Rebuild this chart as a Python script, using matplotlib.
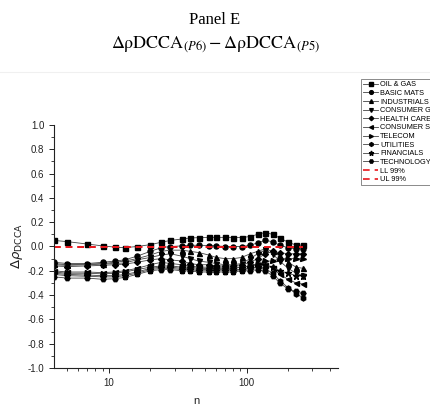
import matplotlib
matplotlib.use("Agg")
import matplotlib.pyplot as plt
from matplotlib.ticker import MultipleLocator, FixedLocator, NullFormatter
from matplotlib.lines import Line2D

plt.rcParams['axes.unicode_minus'] = False
plt.rcParams['font.family'] = ['Liberation Sans', 'DejaVu Sans']

n = [4, 5, 7, 9, 11, 13, 16, 20, 24, 28, 34, 39, 45, 53, 60, 70, 80, 92, 106, 120, 136, 154, 174, 200, 228, 257]

labels = ["OIL & GAS", "BASIC MATS", "INDUSTRIALS", "CONSUMER GOODS", "HEALTH CARE",
          "CONSUMER SVS", "TELECOM", "UTILITIES", "FINANCIALS", "TECHNOLOGY"]

oil_gas = [0.05, 0.04, 0.02, 0.005, -0.005, -0.01, 0.0, 0.015, 0.035, 0.05, 0.062, 0.07, 0.073, 0.075, 0.075, 0.075, 0.074, 0.074, 0.082, 0.1, 0.115, 0.1, 0.07, 0.035, 0.012, 0.01]
basic_mats = [-0.13, -0.14, -0.14, -0.13, -0.12, -0.11, -0.08, -0.04, -0.01, 0.0, 0.005, 0.01, 0.01, 0.008, 0.005, 0.0, 0.0, 0.0, 0.01, 0.03, 0.05, 0.04, 0.01, -0.01, -0.02, -0.02]
industrials = [-0.14, -0.15, -0.145, -0.14, -0.13, -0.12, -0.10, -0.07, -0.04, -0.03, -0.03, -0.04, -0.05, -0.07, -0.09, -0.1, -0.1, -0.09, -0.06, -0.04, -0.02, -0.04, -0.08, -0.13, -0.17, -0.18]
consumer_goods = [-0.15, -0.155, -0.15, -0.145, -0.14, -0.135, -0.11, -0.09, -0.07, -0.06, -0.08, -0.10, -0.12, -0.13, -0.14, -0.15, -0.15, -0.14, -0.10, -0.06, -0.03, -0.06, -0.12, -0.18, -0.22, -0.24]
health_care = [-0.16, -0.165, -0.16, -0.155, -0.15, -0.145, -0.13, -0.11, -0.1, -0.11, -0.12, -0.14, -0.15, -0.15, -0.16, -0.16, -0.16, -0.15, -0.13, -0.1, -0.06, -0.04, -0.05, -0.06, -0.06, -0.06]
consumer_svs = [-0.2, -0.21, -0.21, -0.215, -0.21, -0.2, -0.18, -0.15, -0.13, -0.14, -0.15, -0.16, -0.17, -0.17, -0.17, -0.17, -0.17, -0.17, -0.16, -0.15, -0.15, -0.18, -0.23, -0.27, -0.3, -0.31]
telecom = [-0.21, -0.22, -0.22, -0.225, -0.22, -0.21, -0.19, -0.17, -0.16, -0.16, -0.17, -0.17, -0.18, -0.18, -0.18, -0.18, -0.18, -0.17, -0.16, -0.14, -0.12, -0.12, -0.1, -0.1, -0.1, -0.1]
utilities = [-0.22, -0.23, -0.235, -0.24, -0.24, -0.23, -0.21, -0.18, -0.17, -0.17, -0.18, -0.18, -0.19, -0.19, -0.19, -0.19, -0.19, -0.19, -0.18, -0.17, -0.18, -0.22, -0.28, -0.34, -0.39, -0.42]
financials = [-0.23, -0.24, -0.245, -0.25, -0.25, -0.24, -0.22, -0.19, -0.18, -0.18, -0.19, -0.19, -0.2, -0.2, -0.2, -0.2, -0.2, -0.19, -0.18, -0.17, -0.15, -0.17, -0.2, -0.22, -0.24, -0.24]
technology = [-0.25, -0.26, -0.26, -0.27, -0.265, -0.255, -0.23, -0.2, -0.19, -0.19, -0.2, -0.2, -0.21, -0.21, -0.21, -0.21, -0.21, -0.2, -0.2, -0.19, -0.2, -0.24, -0.3, -0.35, -0.37, -0.38]

series = [oil_gas, basic_mats, industrials, consumer_goods, health_care,
          consumer_svs, telecom, utilities, financials, technology]
markers = ['s', 'o', '^', 'v', 'D', '<', '>', 'h', '*', 'H']

ll99 = [0.0] * len(n)
ul99 = [0.0] * len(n)

fig = plt.figure(figsize=(4.3, 4.05), dpi=100)
ax = fig.add_axes([54/430, 1 - 368/405, (338 - 54)/430, (368 - 125)/405])

for vals, m, lab in zip(series, markers, labels):
    ms = 4.8 if m == '*' else 3.6
    if m == 'D':
        ms = 3.0
    ax.plot(n, vals, color='#444444', lw=0.6, marker=m, ms=ms,
            mfc='black', mec='black', label=lab)

ax.plot(n, ll99, color='#e8151b', lw=1.2, ls=(0, (4, 3)), label='LL 99%')
ax.plot(n, ul99, color='#e8151b', lw=1.2, ls=(0, (4, 3)), label='UL 99%')

ax.set_xscale('log')
ax.set_xlim(4, 460)
ax.set_ylim(-1.0, 1.0)
ax.yaxis.set_major_locator(MultipleLocator(0.2))
ax.yaxis.set_minor_locator(MultipleLocator(0.1))
ax.yaxis.set_major_formatter(plt.FuncFormatter(lambda v, p: f"{v:.1f}" if abs(v) > 1e-9 else "0.0"))
ax.xaxis.set_major_locator(FixedLocator([10, 100]))
ax.set_xticklabels(['10', '100'])
ax.xaxis.set_minor_locator(FixedLocator([5, 6, 7, 8, 9, 20, 30, 40, 50, 60, 70, 80, 90, 200, 300, 400]))
ax.xaxis.set_minor_formatter(NullFormatter())

for s in ['top', 'right']:
    ax.spines[s].set_visible(False)
for s in ['left', 'bottom']:
    ax.spines[s].set_linewidth(0.8)
    ax.spines[s].set_color('#222222')
ax.tick_params(axis='both', which='major', direction='out', length=3.5, width=0.7,
               labelsize=7, colors='#222222')
ax.tick_params(axis='both', which='minor', direction='out', length=2, width=0.6, colors='#222222')

ax.set_xlabel('n', fontsize=8, color='#222222', labelpad=6)
ax.set_ylabel(r'$\Delta\rho_{\mathrm{DCCA}}$', fontsize=9.5, color='#222222', labelpad=2,
              math_fontfamily='dejavusans')

fig.text(0.5, 1 - 20/405, 'Panel E', ha='center', va='center', fontsize=12,
         family=['Liberation Serif', 'DejaVu Serif'])
fig.text(0.5, 1 - 45/405,
         r'$\mathrm{\Delta\rho DCCA}_{(P6)} - \mathrm{\Delta\rho DCCA}_{(P5)}$',
         ha='center', va='center', fontsize=13, math_fontfamily='stix')
fig.add_artist(Line2D([0, 1], [1 - 72/405, 1 - 72/405], color='#f0f0f0', lw=0.8))

leg = ax.legend(loc='upper left', bbox_to_anchor=(361/430, 1 - 79/405),
                bbox_transform=fig.transFigure, fontsize=5.3, frameon=True,
                fancybox=False, edgecolor='#555555', handlelength=2.0,
                handletextpad=0.3, labelspacing=0.2, borderpad=0.3,
                borderaxespad=0, markerscale=0.75)
leg.get_frame().set_linewidth(0.6)

fig.savefig('out.png', dpi=100)
